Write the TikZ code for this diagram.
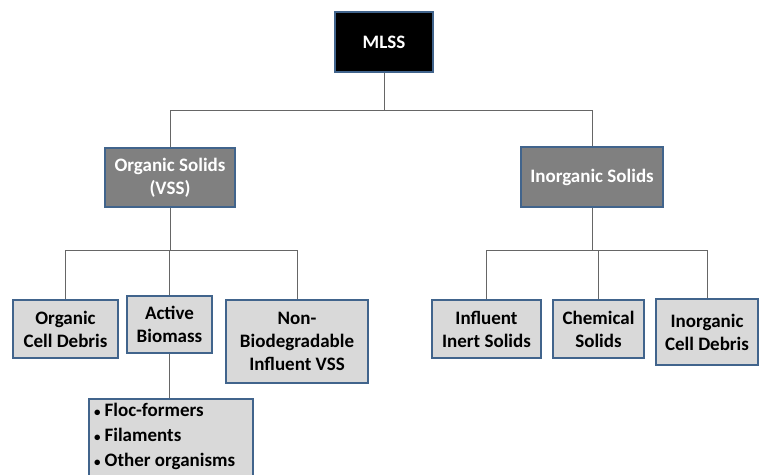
\documentclass[tikz,border=0pt]{standalone}
\usepackage{fontspec}
\setmainfont{Carlito}
\usetikzlibrary{calc}
\definecolor{bordc}{HTML}{41648C}
\definecolor{lightf}{HTML}{D9D9D9}
\definecolor{darkf}{HTML}{808080}
\definecolor{connc}{HTML}{666666}
\tikzset{
  base/.style={draw=bordc, line width=1.8pt, font=\fontsize{19}{23}\selectfont\bfseries, align=center, inner sep=2pt},
  lightbox/.style={base, fill=lightf, text=black},
  darkbox/.style={base, fill=darkf, text=white},
  blackbox/.style={base, fill=black, text=white},
  conn/.style={draw=connc, line width=1pt},
}
\newcommand{\mybul}{{\fontsize{13}{13}\selectfont•}\hspace{4pt}}
\begin{document}
\begin{tikzpicture}[x=1pt,y=-1pt]
\useasboundingbox (0,0) rectangle (762,474);
\clip (0,0) rectangle (762,474);
\fill[white] (0,0) rectangle (762,474);
\node[blackbox, minimum width=98pt, minimum height=60pt] (mlss) at (384,42) {MLSS};
\node[darkbox, minimum width=130pt, minimum height=59pt] (org) at (170,177.5) {Organic Solids\\(VSS)};
\node[darkbox, minimum width=142pt, minimum height=60pt] (inorg) at (592,177) {Inorganic Solids};
\node[lightbox, minimum width=105pt, minimum height=58pt] (ocd) at (65.5,329) {Organic\\Cell Debris};
\node[lightbox, minimum width=85pt, minimum height=57pt] (ab) at (169.5,324.5) {Active\\Biomass};
\node[lightbox, minimum width=142pt, minimum height=83pt] (nb) at (297,341.5) {Non-\\Biodegradable\\Influent VSS};
\node[lightbox, minimum width=109pt, minimum height=58pt] (iis) at (486.5,329) {Influent\\Inert Solids};
\node[lightbox, minimum width=91pt, minimum height=58pt] (cs) at (598.5,329) {Chemical\\Solids};
\node[lightbox, minimum width=102pt, minimum height=66pt] (icd) at (707,332) {Inorganic\\Cell Debris};
\node[lightbox, anchor=north west, minimum width=164pt, minimum height=100pt] (bul) at (88,398) {};
\node[anchor=north west, align=left, inner sep=0pt, font=\fontsize{19}{25}\selectfont\bfseries] (bultext) at (94,403)
  {\mybul Floc-formers\\\mybul Filaments\\\mybul Other organisms};
\coordinate (b1) at (0,110);
\coordinate (b2) at (0,250);
\draw[conn] (mlss.south) -- (mlss.south |- b1);
\draw[conn] (org.north) -- (org.north |- b1) -- (inorg.north |- b1) -- (inorg.north);
\draw[conn] (org.south) -- (org.south |- b2);
\draw[conn] (ocd.north) -- (ocd.north |- b2) -- (nb.north |- b2) -- (nb.north);
\draw[conn] (ab.north) -- (ab.north |- b2);
\draw[conn] (inorg.south) -- (inorg.south |- b2);
\draw[conn] (iis.north) -- (iis.north |- b2) -- (icd.north |- b2) -- (icd.north);
\draw[conn] (cs.north) -- (cs.north |- b2);
\draw[conn] (ab.south) -- (ab.south |- bul.north);
\end{tikzpicture}
\end{document}
